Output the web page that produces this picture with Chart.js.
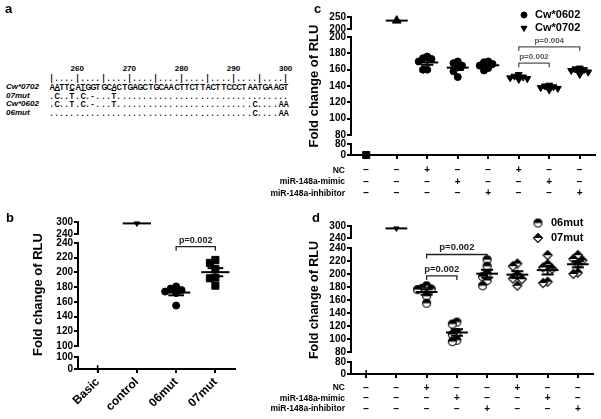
<!DOCTYPE html>
<html><head><meta charset="utf-8">
<script src="https://cdn.jsdelivr.net/npm/chart.js@4.4.1/dist/chart.umd.min.js"></script>
<style>
html,body{margin:0;padding:0;background:#fff;}
#wrap{position:relative;width:601px;height:419px;overflow:hidden;font-family:"Liberation Sans",Arial,sans-serif;color:#000;}
canvas{position:absolute;left:0;top:0;}
.plabel{position:absolute;font-weight:bold;font-size:13px;line-height:13px;}
.row{position:absolute;left:0;top:0;height:10px;white-space:nowrap;}
.cell{position:absolute;top:0;text-align:center;font-weight:bold;font-size:9px;line-height:10px;}
.cell.sq{transform:scaleX(0.84);}
.sname{position:absolute;font-weight:bold;font-style:italic;font-size:8px;line-height:10px;}
</style></head><body>
<div id="wrap">
  <div id="panelA"></div>
  <canvas id="cb" width="601" height="419"></canvas>
  <canvas id="cc" width="601" height="419"></canvas>
  <canvas id="cd" width="601" height="419"></canvas>
  <div class="plabel" style="left:5px;top:2px">a</div>
  <div class="plabel" style="left:6px;top:211px">b</div>
  <div class="plabel" style="left:314px;top:2px">c</div>
  <div class="plabel" style="left:312px;top:211px">d</div>
</div>
<script>
// ---------------- DATA ----------------
// Panel a: alignment
const seqFirstPos = 255;
const seqRulerNumbers = [260, 270, 280, 290, 300];
const seqNames = ['Cw*0702', '07mut', 'Cw*0602', '06mut'];
const seqCw0702 = 'AATTCATGGTGCACTGAGCTGCAACTTCTTACTTCCCTAATGAAGT';
const seq07mut  = '.C..T.C.-...T'.padEnd(46, '.');
const seqCw0602 = '.C..T.C.-...T'.padEnd(39, '.') + 'C....AA';
const seq06mut  = ''.padEnd(39, '.') + 'C....AA';
const seq07mutMarked = [1, 4, 6, 12];

// Panel b
const bCategories = ['Basic', 'control', '06mut', '07mut'];
const bBasic   = [0];
const bControl = [293];
const b06mut   = [181, 178, 176, 174, 172, 155];
const b07mut   = [217, 213, 205, 193, 192, 182];
const bTopTicks = [240, 300];
const bMidTicks = [100, 120, 140, 160, 180, 200, 220, 240];
const bLowTicks = [0, 100];
const bPValue = 'p=0.002';

// Panel c
const cLegend = ['Cw*0602', 'Cw*0702'];
const cBasic   = [0];
const cControl = [235];
const c0602NC    = [176, 174, 173, 170, 160, 160];
const c0602Mimic = [170, 168, 165, 163, 158, 151];
const c0602Inhib = [170, 169, 167, 165, 162, 159];
const c0702NC    = [154, 152, 151, 150, 149, 148];
const c0702Mimic = [141, 140, 139, 138, 137, 135];
const c0702Inhib = [162, 161, 160, 159, 157, 154];
const cTopTicks = [200, 250];
const cMidTicks = [80, 100, 120, 140, 160, 180, 200];
const cLowTicks = [0, 80];
const cPValues = ['p=0.002', 'p=0.004'];

// Panel d
const dLegend = ['06mut', '07mut'];
const dBasic   = [0];
const dControl = [288];
const d06NC    = [182, 178, 177, 176, 166, 155];
const d06Mimic = [126, 123, 110, 107, 98, 96];
const d06Inhib = [222, 212, 201, 196, 190, 182];
const d07NC    = [216, 212, 199, 193, 192, 182];
const d07Mimic = [229, 215, 210, 208, 188, 186];
const d07Inhib = [229, 223, 221, 215, 202, 200];
const dTopTicks = [240, 300];
const dMidTicks = [80, 100, 120, 140, 160, 180, 200, 220, 240];
const dLowTicks = [0, 80];
const dPValues = ['p=0.002', 'p=0.002'];

// Treatment table (c and d)
const rowNames = ['NC', 'miR-148a-mimic', 'miR-148a-inhibitor'];
const rowNC    = ['\u2212', '\u2212', '+', '\u2212', '\u2212', '+', '\u2212', '\u2212'];
const rowMimic = ['\u2212', '\u2212', '\u2212', '+', '\u2212', '\u2212', '+', '\u2212'];
const rowInhib = ['\u2212', '\u2212', '\u2212', '\u2212', '+', '\u2212', '\u2212', '+'];

// ---------------- PANEL A (text) ----------------
(function () {
  const host = document.getElementById('panelA');
  const cellW = 5.21, seqLeft = 48.6;
  function addRow(str, cy, marked) {
    const row = document.createElement('div');
    row.className = 'row';
    row.style.top = (cy - 5) + 'px';
    for (let i = 0; i < str.length; i++) {
      const s = document.createElement('span');
      s.className = 'cell sq';
      s.textContent = str[i];
      s.style.left = (seqLeft + i * cellW) + 'px';
      s.style.width = cellW + 'px';
      if (marked && marked.includes(i)) s.style.textDecoration = 'overline';
      row.appendChild(s);
    }
    host.appendChild(row);
  }
  const numRow = document.createElement('div');
  numRow.className = 'row'; numRow.style.top = (69 - 5) + 'px';
  seqRulerNumbers.forEach(n => {
    const s = document.createElement('span');
    s.className = 'cell';
    s.style.fontSize = '8px';
    s.textContent = String(n);
    const i = n - seqFirstPos;
    s.style.left = (seqLeft + i * cellW + cellW / 2 - 10) + 'px';
    s.style.width = '20px';
    numRow.appendChild(s);
  });
  host.appendChild(numRow);
  let ruler = '';
  for (let p = seqFirstPos; p < seqFirstPos + seqCw0702.length; p++) ruler += (p % 5 === 0) ? '|' : '.';
  addRow(ruler, 78);
  const rows = [seqCw0702, seq07mut, seqCw0602, seq06mut];
  const ys = [87, 95.5, 104, 112.5];
  rows.forEach((r, k) => {
    const nm = document.createElement('div');
    nm.className = 'sname';
    nm.textContent = seqNames[k];
    nm.style.left = '6px';
    nm.style.top = (ys[k] - 5) + 'px';
    host.appendChild(nm);
    addRow(r, ys[k], k === 1 ? seq07mutMarked : null);
  });
})();

// ---------------- CHARTS ----------------
const FONT = "'Liberation Sans', Arial, sans-serif";

function halfCircle(r) {
  const c = document.createElement('canvas');
  const s = Math.ceil(2 * r + 3); c.width = c.height = s;
  const g = c.getContext('2d'); const m = s / 2;
  g.beginPath(); g.arc(m, m, r, 0, Math.PI * 2); g.fillStyle = '#fff'; g.fill();
  g.beginPath(); g.arc(m, m, r, Math.PI, 0); g.closePath(); g.fillStyle = '#000'; g.fill();
  g.beginPath(); g.arc(m, m, r, 0, Math.PI * 2); g.lineWidth = 1.1; g.strokeStyle = '#000'; g.stroke();
  return c;
}
function halfDiamond(r) {
  const c = document.createElement('canvas');
  const s = Math.ceil(2 * r + 3); c.width = c.height = s;
  const g = c.getContext('2d'); const m = s / 2;
  g.beginPath(); g.moveTo(m, m - r); g.lineTo(m + r, m); g.lineTo(m, m + r); g.lineTo(m - r, m); g.closePath();
  g.fillStyle = '#fff'; g.fill();
  g.beginPath(); g.moveTo(m, m - r); g.lineTo(m + r, m); g.lineTo(m - r, m); g.closePath();
  g.fillStyle = '#000'; g.fill();
  g.beginPath(); g.moveTo(m, m - r); g.lineTo(m + r, m); g.lineTo(m, m + r); g.lineTo(m - r, m); g.closePath();
  g.lineWidth = 1.1; g.strokeStyle = '#000'; g.stroke();
  return c;
}
const HALF_CIRCLE = halfCircle(4);
const HALF_DIAMOND = halfDiamond(4.5);

function swarm(values, thr, step) {
  const idx = values.map((v, i) => i).sort((a, b) => values[b] - values[a]);
  const cand = [0, -1, 1, -2, 2];
  const placed = []; const off = new Array(values.length).fill(0);
  idx.forEach(i => {
    let best = 0, bestC = Infinity;
    for (const c of cand) {
      let conflicts = 0;
      placed.forEach(p => { if (Math.abs(values[p.i] - values[i]) < thr && Math.abs(p.o - c) < 1) conflicts++; });
      if (conflicts < bestC) { bestC = conflicts; best = c; }
      if (conflicts === 0) break;
    }
    off[i] = best * step; placed.push({ i, o: best });
  });
  return off;
}
function meanSem(v) {
  const n = v.length; const m = v.reduce((a, b) => a + b, 0) / n;
  if (n < 2) return { m, s: 0 };
  const sd = Math.sqrt(v.reduce((a, b) => a + (b - m) * (b - m), 0) / (n - 1));
  return { m, s: sd / Math.sqrt(n) };
}

function drawMarker(ctx, style, r, rot, x, y) {
  if (Chart.helpers && Chart.helpers.drawPoint) {
    Chart.helpers.drawPoint(ctx, { pointStyle: style, radius: r, rotation: rot || 0, borderWidth: 1 }, x, y);
  }
}

function buildPanel(cfg) {
  const W = 601, H = 419;
  const a = cfg.area;
  const yW = a.left - cfg.padLeft;
  const scales = {};
  const n = cfg.segs.length;
  cfg.segs.forEach((sg, k) => {
    const id = sg.id || ('gap' + k);
    sg._id = id;
    scales[id] = {
      type: 'linear', position: 'left', stack: 'ys', stackWeight: sg.px, weight: n - k,
      display: !sg.gap,
      min: sg.gap ? 0 : sg.min, max: sg.gap ? 1 : sg.max,
      afterFit: s => { s.width = yW; },
      afterBuildTicks: s => { if (sg.ticks) s.ticks = sg.ticks.map(v => ({ value: v })); },
      grid: { display: true, drawOnChartArea: false, drawTicks: true, tickLength: 4, color: '#000', lineWidth: 2 },
      border: { display: true, color: '#000', width: 2 },
      ticks: { autoSkip: false, font: { family: FONT, size: 10, weight: 'bold' }, color: '#000', padding: 1 },
      title: sg.title ? { display: true, text: 'Fold change of RLU', color: '#000',
        font: { family: FONT, size: cfg.titleSize, weight: 'bold' }, padding: { top: 0, bottom: 0 } } : { display: false }
    };
  });
  const nCat = cfg.xLabels.length;
  scales.x = {
    type: 'linear', position: 'bottom', min: -0.5, max: nCat - 0.5,
    afterBuildTicks: s => { s.ticks = cfg.xLabels.map((_, i) => ({ value: i })); },
    afterFit: s => { s.height = cfg.xH; },
    ticks: {
      autoSkip: false, minRotation: cfg.rotation, maxRotation: cfg.rotation,
      font: { family: FONT, size: cfg.xFont, weight: 'bold', lineHeight: cfg.lh ? cfg.lh + 'px' : 1.2 },
      color: '#000', padding: cfg.xPad,
      callback: (v, i) => cfg.xLabels[i]
    },
    grid: { drawOnChartArea: false, drawTicks: true, tickLength: 4, color: '#000', lineWidth: 2 },
    border: { display: true, color: '#000', width: 2 }
  };
  function axisFor(v) {
    for (const sg of cfg.segs) if (!sg.gap && v >= sg.min && v <= sg.max) return sg._id;
    return cfg.segs[0]._id;
  }
  const datasets = [];
  cfg.groups.forEach(g => {
    const axis = axisFor(g.values[0]);
    const off = swarm(g.values, cfg.swarmThr, cfg.swarmStep);
    datasets.push({
      data: g.values.map((v, k) => ({ x: g.x + off[k], y: v })),
      yAxisID: axis, pointStyle: g.style, pointRadius: g.r, pointRotation: g.rot || 0,
      backgroundColor: '#000', borderColor: '#000', borderWidth: g.bw || 1, clip: false, order: g.top ? 0 : 2
    });
    if (g.mean) {
      const { m, s } = meanSem(g.values);
      const line = (pts) => ({ data: pts, yAxisID: axis, showLine: true, pointRadius: 0, borderColor: '#000',
        backgroundColor: '#000', borderWidth: 2, clip: false, order: 1 });
      datasets.push(line([{ x: g.x - 0.36, y: m }, { x: g.x + 0.36, y: m }]));
      if (s > 0) {
        datasets.push(line([{ x: g.x - 0.2, y: m + s }, { x: g.x + 0.2, y: m + s }]));
        datasets.push(line([{ x: g.x - 0.2, y: m - s }, { x: g.x + 0.2, y: m - s }]));
        datasets.push(line([{ x: g.x, y: m - s }, { x: g.x, y: m + s }]));
      }
    }
  });
  const decor = {
    id: 'decor',
    afterDraw(chart) {
      const ctx = chart.ctx;
      const xs = chart.scales.x;
      ctx.save();
      (cfg.brackets || []).forEach(b => {
        const ys = chart.scales[b.axis];
        const x1 = xs.getPixelForValue(b.from), x2 = xs.getPixelForValue(b.to);
        const y = ys.getPixelForValue(b.y);
        ctx.strokeStyle = cfg.bracketColor; ctx.lineWidth = 1.3;
        ctx.beginPath(); ctx.moveTo(x1, y + 4); ctx.lineTo(x1, y); ctx.lineTo(x2, y); ctx.lineTo(x2, y + 4); ctx.stroke();
        ctx.fillStyle = cfg.bracketColor;
        ctx.font = 'bold ' + cfg.pFont + 'px ' + FONT;
        ctx.textAlign = 'center'; ctx.textBaseline = 'bottom';
        ctx.fillText(b.text, (x1 + x2) / 2, y - 2);
      });
      if (cfg.rowLabels) {
        ctx.fillStyle = '#000';
        ctx.font = 'bold ' + cfg.rowFont + 'px ' + FONT;
        ctx.textAlign = 'right'; ctx.textBaseline = 'middle';
        cfg.rowLabels.forEach((t, i) => {
          const y = xs.top + 4 + cfg.xPad + cfg.lh / 2 + i * cfg.lh;
          ctx.fillText(t, chart.chartArea.left - 6, y);
        });
      }
      if (cfg.legend) {
        const L = cfg.legend;
        L.items.forEach((it, i) => {
          const y = L.y + i * L.gap;
          ctx.fillStyle = '#000'; ctx.strokeStyle = '#000'; ctx.lineWidth = 1;
          drawMarker(ctx, it.style, it.r, it.rot, L.x, y);
          ctx.font = 'bold ' + L.font + 'px ' + FONT;
          ctx.textAlign = 'left'; ctx.textBaseline = 'middle';
          ctx.fillText(it.label, L.x + L.textGap, y);
        });
      }
      ctx.restore();
    }
  };
  return new Chart(document.getElementById(cfg.canvas), {
    type: 'scatter',
    data: { datasets },
    options: {
      responsive: false, animation: false, devicePixelRatio: 1,
      layout: { padding: { left: cfg.padLeft, top: a.top, right: W - a.right, bottom: H - a.bottom - cfg.xH } },
      plugins: { legend: { display: false }, tooltip: { enabled: false } },
      scales
    },
    plugins: [decor]
  });
}

// Panel b
buildPanel({
  canvas: 'cb', area: { left: 78, top: 222, right: 235, bottom: 369 }, padLeft: 31, titleSize: 13,
  xH: 45, xLabels: bCategories, rotation: 45, xFont: 12, xPad: 2,
  swarmThr: 9, swarmStep: 0.14,
  segs: [
    { id: 'yT', min: 240, max: 300, ticks: bTopTicks, px: 12 },
    { gap: true, px: 9 },
    { id: 'yM', min: 100, max: 240, ticks: bMidTicks, px: 103, title: true },
    { gap: true, px: 11 },
    { id: 'yB', min: 0, max: 100, ticks: bLowTicks, px: 12 }
  ],
  groups: [
    { x: 0, values: bBasic, style: 'cross', r: 4, bw: 1.5, mean: false, top: true },
    { x: 1, values: bControl, style: 'triangle', rot: 180, r: 3, mean: true },
    { x: 2, values: b06mut, style: 'circle', r: 3.5, mean: true },
    { x: 3, values: b07mut, style: 'rect', r: 5, mean: true }
  ],
  brackets: [{ from: 2, to: 3, axis: 'yM', y: 235, text: bPValue }],
  bracketColor: '#222', pFont: 9
});

const tableLabels = rowNC.map((v, i) => [rowNC[i], rowMimic[i], rowInhib[i]]);

// Panel c
buildPanel({
  canvas: 'cc', area: { left: 351, top: 17, right: 595, bottom: 155 }, padLeft: 307, titleSize: 13,
  xH: 45, xLabels: tableLabels, rotation: 0, xFont: 10, xPad: 5.5, lh: 11.5,
  rowLabels: rowNames, rowFont: 8.5,
  swarmThr: 7, swarmStep: 0.14,
  segs: [
    { id: 'yT', min: 200, max: 250, ticks: cTopTicks, px: 12 },
    { gap: true, px: 8 },
    { id: 'yM', min: 80, max: 200, ticks: cMidTicks, px: 98, title: true },
    { gap: true, px: 9 },
    { id: 'yB', min: 0, max: 80, ticks: cLowTicks, px: 11 }
  ],
  groups: [
    { x: 0, values: cBasic, style: 'rect', r: 5, mean: false },
    { x: 1, values: cControl, style: 'triangle', r: 5, mean: true },
    { x: 2, values: c0602NC, style: 'circle', r: 3.5, mean: true },
    { x: 3, values: c0602Mimic, style: 'circle', r: 3.5, mean: true },
    { x: 4, values: c0602Inhib, style: 'circle', r: 3.5, mean: true },
    { x: 5, values: c0702NC, style: 'triangle', rot: 180, r: 4, mean: true },
    { x: 6, values: c0702Mimic, style: 'triangle', rot: 180, r: 4, mean: true },
    { x: 7, values: c0702Inhib, style: 'triangle', rot: 180, r: 4, mean: true }
  ],
  brackets: [
    { from: 5, to: 6, axis: 'yM', y: 168, text: cPValues[0] },
    { from: 5, to: 7, axis: 'yM', y: 188, text: cPValues[1] }
  ],
  bracketColor: '#555', pFont: 8,
  legend: { x: 524, y: 15, gap: 13, textGap: 11, font: 11, items: [
    { label: cLegend[0], style: 'circle', r: 3 },
    { label: cLegend[1], style: 'triangle', rot: 180, r: 3.5 }
  ] }
});

// Panel d
buildPanel({
  canvas: 'cd', area: { left: 351, top: 226, right: 593, bottom: 374 }, padLeft: 307, titleSize: 12.5,
  xH: 45, xLabels: tableLabels, rotation: 0, xFont: 10, xPad: 4.5, lh: 10.5,
  rowLabels: rowNames, rowFont: 8.5,
  swarmThr: 10, swarmStep: 0.15,
  segs: [
    { id: 'yT', min: 240, max: 300, ticks: dTopTicks, px: 12 },
    { gap: true, px: 10 },
    { id: 'yM', min: 80, max: 240, ticks: dMidTicks, px: 104, title: true },
    { gap: true, px: 10 },
    { id: 'yB', min: 0, max: 80, ticks: dLowTicks, px: 12 }
  ],
  groups: [
    { x: 0, values: dBasic, style: 'cross', r: 4, bw: 1.5, mean: false, top: true },
    { x: 1, values: dControl, style: 'triangle', rot: 180, r: 3, mean: true },
    { x: 2, values: d06NC, style: HALF_CIRCLE, r: 4, mean: true },
    { x: 3, values: d06Mimic, style: HALF_CIRCLE, r: 4, mean: true },
    { x: 4, values: d06Inhib, style: HALF_CIRCLE, r: 4, mean: true },
    { x: 5, values: d07NC, style: HALF_DIAMOND, r: 4.5, mean: true },
    { x: 6, values: d07Mimic, style: HALF_DIAMOND, r: 4.5, mean: true },
    { x: 7, values: d07Inhib, style: HALF_DIAMOND, r: 4.5, mean: true }
  ],
  brackets: [
    { from: 2, to: 4, axis: 'yM', y: 230, text: dPValues[0] },
    { from: 2, to: 3, axis: 'yM', y: 197, text: dPValues[1] }
  ],
  bracketColor: '#222', pFont: 9.5,
  legend: { x: 538, y: 223, gap: 15, textGap: 13, font: 11, items: [
    { label: dLegend[0], style: HALF_CIRCLE, r: 4 },
    { label: dLegend[1], style: HALF_DIAMOND, r: 4.5 }
  ] }
});
</script>
</body></html>
